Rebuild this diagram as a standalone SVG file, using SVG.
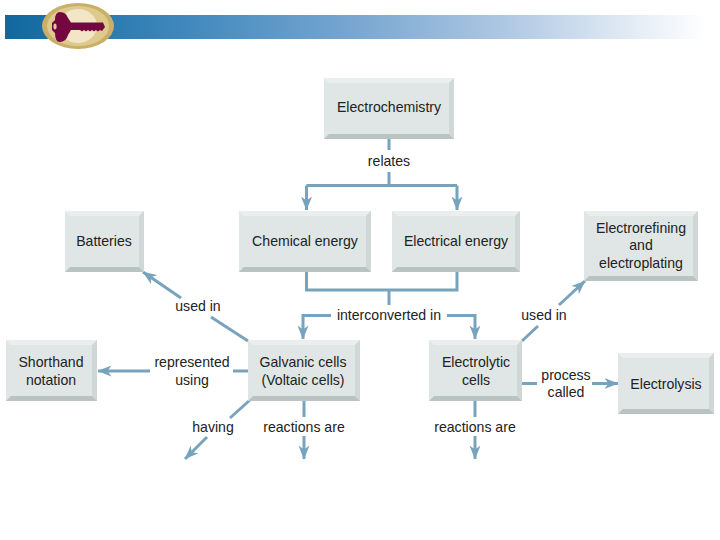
<svg xmlns="http://www.w3.org/2000/svg" width="720" height="540" viewBox="0 0 720 540">
<defs>
<linearGradient id="band" x1="0" x2="1" y1="0" y2="0">
<stop offset="0" stop-color="#0f689f"/>
<stop offset="0.25" stop-color="#3f88bd"/>
<stop offset="0.5" stop-color="#7ba8d2"/>
<stop offset="0.7" stop-color="#aec8e3"/>
<stop offset="0.85" stop-color="#dbe6f2"/>
<stop offset="0.98" stop-color="#ffffff"/>
</linearGradient>
<marker id="ah" viewBox="0 0 14 12" refX="13.5" refY="6" markerWidth="14" markerHeight="12" markerUnits="userSpaceOnUse" orient="auto">
<path d="M0 0.5L14 6L0 11.5L4 6Z" fill="#77a3bd"/>
</marker>
</defs>
<style>
text{font-family:"Liberation Sans",Arial,sans-serif;font-size:14.1px;fill:#222;text-anchor:middle}
.c{fill:none;stroke:#77a3bd;stroke-width:3}
.f{fill:#dfe6e5}.t{fill:#eaefee}.b{fill:#b9c4c2}.s{fill:#d0d8d7}
</style>
<g id="header">
<rect x="5" y="15" width="715" height="24" fill="url(#band)"/>
<ellipse cx="78" cy="26" rx="36" ry="23" fill="#c9b066"/>
<ellipse cx="78" cy="26" rx="31" ry="20" fill="#dfca8e"/>
<ellipse cx="78" cy="26" rx="19" ry="17" fill="#f2e6c6"/>
<path d="M60 12Q66 12 68 18L71 22.5H103L105 27L102 31L100 30L98 31.5L96 30L94 31.5L92 30L90 31.5L88 30L86 31.5L84 30L82 31.5L80 30H71L68 35Q66 42 60 42Q55 42 55 33L52 30V23L55 20Q55 12 60 12Z" fill="#74073f"/>
<ellipse cx="55" cy="26.5" rx="1.6" ry="3" fill="#dfca8e"/>
</g>
<g id="connectors">
<path class="c" d="M389 138V150M389 172V185.5M306.5 185.5H457"/>
<path class="c" d="M306.5 185.5V210" marker-end="url(#ah)"/>
<path class="c" d="M457 185.5V210" marker-end="url(#ah)"/>
<path class="c" d="M306.5 272V290H457V272M389 290V305"/>
<path class="c" d="M331 315.5H303V339" marker-end="url(#ah)"/>
<path class="c" d="M447 315.5H475V339" marker-end="url(#ah)"/>
<path class="c" d="M248 341L211 317"/>
<path class="c" d="M181 298L143 272" marker-end="url(#ah)"/>
<path class="c" d="M248 371H233"/>
<path class="c" d="M150 371H98" marker-end="url(#ah)"/>
<path class="c" d="M250 400L230 418"/>
<path class="c" d="M207 437L185 459" marker-end="url(#ah)"/>
<path class="c" d="M304 400V417"/>
<path class="c" d="M304 436V459" marker-end="url(#ah)"/>
<path class="c" d="M475 401V417"/>
<path class="c" d="M475 436V459" marker-end="url(#ah)"/>
<path class="c" d="M522 341L538 326"/>
<path class="c" d="M559 305L585 281" marker-end="url(#ah)"/>
<path class="c" d="M522 383.5H537"/>
<path class="c" d="M592 383.5H618" marker-end="url(#ah)"/>
</g>
<g id="n-electrochemistry"><rect class="f" x="324" y="78" width="130" height="61"/><path class="t" d="M324 78H454L449 83H329Z"/><path class="s" d="M454 78V139L449 134V83Z"/><path class="b" d="M324 139H454L449 134H329Z"/><text x="389" y="112">Electrochemistry</text></g>
<g id="n-chemical"><rect class="f" x="239" y="211" width="132" height="61"/><path class="t" d="M239 211H371L366 216H244Z"/><path class="s" d="M371 211V272L366 267V216Z"/><path class="b" d="M239 272H371L366 267H244Z"/><text x="305" y="246">Chemical energy</text></g>
<g id="n-electrical"><rect class="f" x="392" y="211" width="128" height="61"/><path class="t" d="M392 211H520L515 216H397Z"/><path class="s" d="M520 211V272L515 267V216Z"/><path class="b" d="M392 272H520L515 267H397Z"/><text x="456" y="246">Electrical energy</text></g>
<g id="n-batteries"><rect class="f" x="65" y="211" width="79" height="61"/><path class="t" d="M65 211H144L139 216H70Z"/><path class="s" d="M144 211V272L139 267V216Z"/><path class="b" d="M65 272H144L139 267H70Z"/><text x="104" y="246">Batteries</text></g>
<g id="n-refining"><rect class="f" x="584" y="211" width="114" height="70"/><path class="t" d="M584 211H698L693 216H589Z"/><path class="s" d="M698 211V281L693 276V216Z"/><path class="b" d="M584 281H698L693 276H589Z"/><text x="641" y="233">Electrorefining</text><text x="641" y="250">and</text><text x="641" y="268">electroplating</text></g>
<g id="n-shorthand"><rect class="f" x="6" y="340" width="91" height="61"/><path class="t" d="M6 340H97L92 345H11Z"/><path class="s" d="M97 340V401L92 396V345Z"/><path class="b" d="M6 401H97L92 396H11Z"/><text x="51" y="367">Shorthand</text><text x="51" y="385">notation</text></g>
<g id="n-galvanic"><rect class="f" x="248" y="340" width="112" height="61"/><path class="t" d="M248 340H360L355 345H253Z"/><path class="s" d="M360 340V401L355 396V345Z"/><path class="b" d="M248 401H360L355 396H253Z"/><text x="303" y="367">Galvanic cells</text><text x="303" y="385">(Voltaic cells)</text></g>
<g id="n-electrolytic"><rect class="f" x="429" y="340" width="93" height="61"/><path class="t" d="M429 340H522L517 345H434Z"/><path class="s" d="M522 340V401L517 396V345Z"/><path class="b" d="M429 401H522L517 396H434Z"/><text x="476" y="367">Electrolytic</text><text x="476" y="385">cells</text></g>
<g id="n-electrolysis"><rect class="f" x="618" y="353" width="96" height="61"/><path class="t" d="M618 353H714L709 358H623Z"/><path class="s" d="M714 353V414L709 409V358Z"/><path class="b" d="M618 414H714L709 409H623Z"/><text x="666" y="389">Electrolysis</text></g>
<g id="labels">
<text x="389" y="166">relates</text>
<text x="389" y="320">interconverted in</text>
<text x="198" y="311">used in</text>
<text x="192" y="367">represented</text>
<text x="192" y="385">using</text>
<text x="213" y="432">having</text>
<text x="304" y="432">reactions are</text>
<text x="475" y="432">reactions are</text>
<text x="544" y="320">used in</text>
<text x="566" y="380">process</text>
<text x="566" y="397">called</text>
</g>
</svg>
